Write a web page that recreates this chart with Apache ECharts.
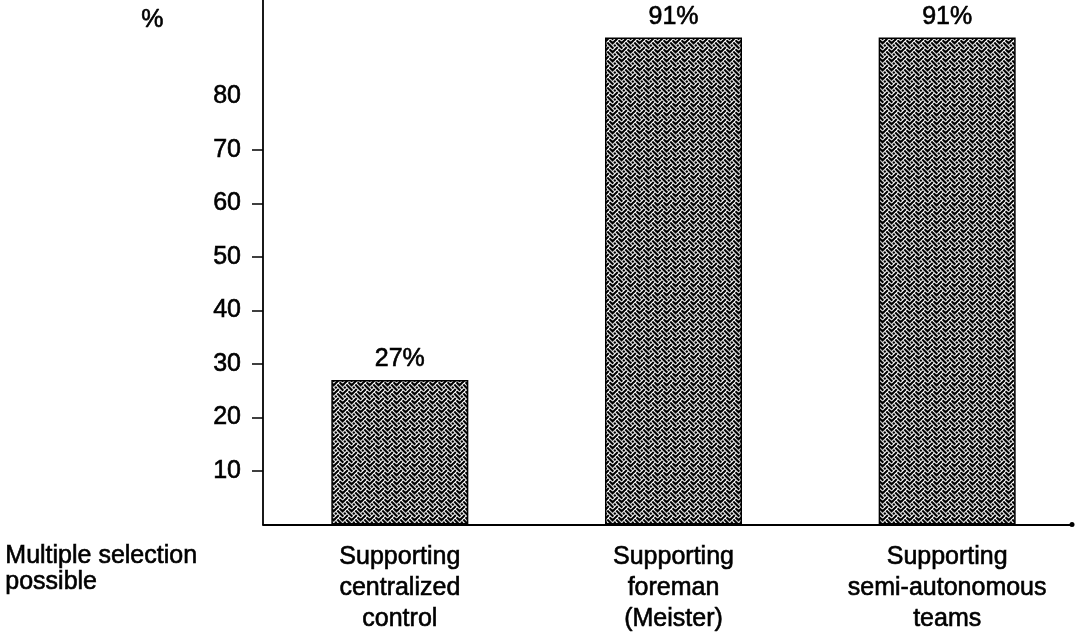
<!DOCTYPE html>
<html>
<head>
<meta charset="utf-8">
<style>
  html, body { margin: 0; padding: 0; background: #fff; overflow: hidden; }
  #chart { width: 1086px; height: 637px; }
</style>
<script src="https://cdn.jsdelivr.net/npm/echarts@6/dist/echarts.min.js"></script>
</head>
<body>
<div id="chart"></div>
<script>
// Share of respondents supporting each type of shop-floor organisation
const categories = [
  'Supporting\ncentralized\ncontrol',
  'Supporting\nforeman\n(Meister)',
  'Supporting\nsemi-autonomous\nteams'
];
const shares = [27, 91, 91];
const yLabelValues = [10, 20, 30, 40, 50, 60, 70, 80];
const yTickValues = [10, 20, 30, 40, 50, 60, 70];

const FONT = '"Liberation Sans", Arial, Helvetica, sans-serif';
const FS = 25;
// slight outline so the glyphs print a little heavier
const heavy = { textBorderColor: '#000', textBorderWidth: 0.6 };

// Woven hatch fill: 8x8 "weave" bitmap, white strokes on black, drawn as
// joined diagonal segments so it can be scaled to any period
function makeWeave(period) {
  const bits = [0x88, 0x54, 0x22, 0x45, 0x88, 0x14, 0x22, 0x51];
  const on = (x, y) => (bits[((y % 8) + 8) % 8] >> (7 - (((x % 8) + 8) % 8))) & 1;
  const sc = period / 8;
  const c = document.createElement('canvas');
  c.width = period; c.height = period;
  const g = c.getContext('2d');
  g.fillStyle = '#000';
  g.fillRect(0, 0, period, period);
  g.strokeStyle = '#fff';
  g.lineWidth = 1.1;
  g.lineCap = 'butt';
  for (let y = 0; y < 8; y++) {
    for (let x = 0; x < 8; x++) {
      if (!on(x, y)) continue;
      for (const dy of [1, -1]) {
        if (!on(x + 1, y + dy)) continue;
        for (const ox of [-period, 0, period]) {
          for (const oy of [-period, 0, period]) {
            g.beginPath();
            g.moveTo((x + 0.5) * sc + ox, (y + 0.5) * sc + oy);
            g.lineTo((x + 1.5) * sc + ox, (y + dy + 0.5) * sc + oy);
            g.stroke();
          }
        }
      }
    }
  }
  return c;
}

const chart = echarts.init(document.getElementById('chart'), null, { renderer: 'canvas' });

chart.setOption({
  backgroundColor: '#fff',
  animation: false,
  grid: [
    { left: 263, top: 0, width: 821, height: 524.5, containLabel: false },
    { left: 263, top: 0, width: 809, height: 524.5, containLabel: false }
  ],
  xAxis: [
    {
      type: 'category',
      gridIndex: 0,
      data: categories,
      boundaryGap: true,
      axisLine: { show: false },
      axisTick: { show: false },
      axisLabel: Object.assign({
        color: '#000',
        fontFamily: FONT,
        fontSize: FS,
        lineHeight: 31,
        margin: 17,
        interval: 0
      }, heavy)
    },
    {
      // visible baseline, ending in a small dot
      type: 'value',
      gridIndex: 1,
      min: 0, max: 1,
      axisLine: {
        show: true,
        lineStyle: { color: '#000', width: 1.8 },
        symbol: ['none', 'circle'],
        symbolSize: [5, 5]
      },
      axisTick: { show: false },
      axisLabel: { show: false },
      splitLine: { show: false }
    }
  ],
  yAxis: [
    {
      type: 'value',
      gridIndex: 0,
      min: 0,
      max: 98,
      interval: 10,
      axisLine: { show: true, lineStyle: { color: '#000', width: 1.8 } },
      axisTick: {
        show: true,
        inside: false,
        length: 11,
        customValues: yTickValues,
        lineStyle: { color: '#000', width: 1.5 }
      },
      axisLabel: Object.assign({
        color: '#000',
        fontFamily: FONT,
        fontSize: FS,
        margin: 22,
        customValues: yLabelValues
      }, heavy),
      splitLine: { show: false }
    },
    {
      type: 'value',
      gridIndex: 1,
      min: 0, max: 1,
      show: false
    }
  ],
  graphic: [
    {
      type: 'text',
      left: 141, top: 7,
      style: {
        text: '%',
        fill: '#000',
        stroke: '#000',
        lineWidth: 0.6,
        font: FS + 'px ' + FONT
      }
    },
    {
      type: 'text',
      left: 5, top: 543,
      style: {
        text: 'Multiple selection\npossible',
        fill: '#000',
        stroke: '#000',
        lineWidth: 0.6,
        font: FS + 'px ' + FONT,
        lineHeight: 26
      }
    }
  ],
  series: [
    {
      type: 'bar',
      xAxisIndex: 0,
      yAxisIndex: 0,
      data: shares,
      barWidth: 137,
      itemStyle: {
        color: { image: makeWeave(9), repeat: 'repeat' },
        borderColor: '#000',
        borderWidth: 1.5
      },
      label: Object.assign({
        show: true,
        position: 'top',
        distance: 8,
        formatter: '{c}%',
        color: '#000',
        fontFamily: FONT,
        fontSize: FS
      }, heavy)
    }
  ]
});
</script>
</body>
</html>
